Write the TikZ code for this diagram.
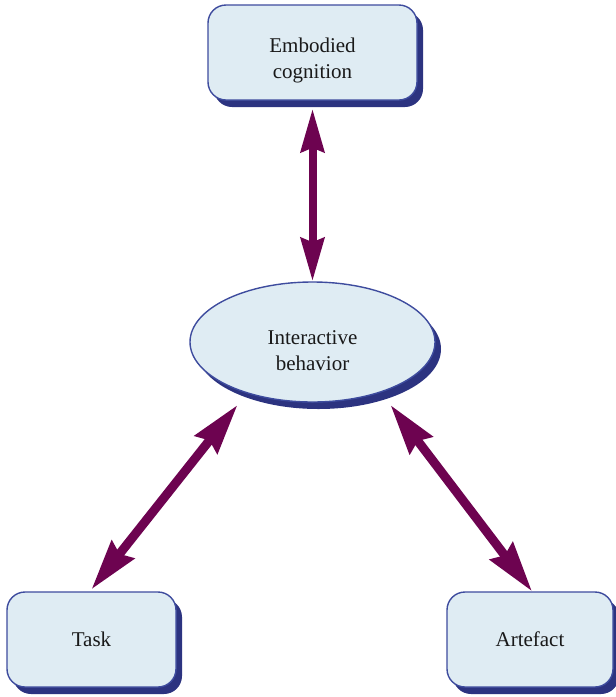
\documentclass[tikz,border=0pt]{standalone}
\usepackage{fontspec}
\setmainfont{Liberation Serif}
\usetikzlibrary{arrows.meta,shadows,shapes.geometric}

\definecolor{boxfill}{HTML}{DFECF3}
\definecolor{boxline}{HTML}{3E4C9E}
\definecolor{boxshadow}{HTML}{2C3380}
\definecolor{linkcol}{HTML}{6D0350}

\tikzset{
  labeltext/.style={font=\fontsize{21}{26}\selectfont, text=black!90, align=center},
  shadowed/.style={general shadow={shadow xshift=6pt, shadow yshift=-7pt, fill=boxshadow}},
  roundbox/.style={labeltext, shadowed, draw=boxline, line width=1.4pt, fill=boxfill,
    rounded corners=18pt, inner sep=0pt},
  ovalbox/.style={labeltext, shadowed, ellipse, draw=boxline, line width=1.4pt, fill=boxfill,
    inner sep=0pt},
  link/.style={draw=linkcol, line width=8pt,
    {Stealth[length=43pt, width=23pt, inset=4pt]}-{Stealth[length=43pt, width=23pt, inset=4pt]}},
  slantlink/.style={draw=linkcol, line width=9pt,
    {Stealth[length=50pt, width=28pt, inset=5pt]}-{Stealth[length=50pt, width=28pt, inset=5pt]}},
}

% pushes a two-line label a little below the middle of its box
\newcommand{\lowerby}[1]{\rule{0pt}{#1}}

\begin{document}
\begin{tikzpicture}[x=1pt, y=-1pt]
  \useasboundingbox (0,0) rectangle (616,697);

  % concept boxes
  \node[roundbox, minimum width=209pt, minimum height=95pt] (emb) at (312.5,52.5)
    {\lowerby{30pt}Embodied\\cognition};
  \node[ovalbox, minimum width=245pt, minimum height=120pt] (ib) at (312.5,342)
    {\lowerby{31pt}Interactive\\behavior};
  \node[roundbox, minimum width=169pt, minimum height=95pt] (task) at (91.5,639.5) {Task};
  \node[roundbox, minimum width=166pt, minimum height=95pt] (art) at (530,639.5) {Artefact};

  % two-way links
  \draw[link] ([yshift=-8pt]emb.south) -- (ib.north);
  \draw[slantlink] ([xshift=-75pt, yshift=-63pt]ib.center) -- ([yshift=2pt]task.north);
  \draw[slantlink] ([xshift=78pt, yshift=-63pt]ib.center) -- ([xshift=2pt]art.north);
\end{tikzpicture}
\end{document}
